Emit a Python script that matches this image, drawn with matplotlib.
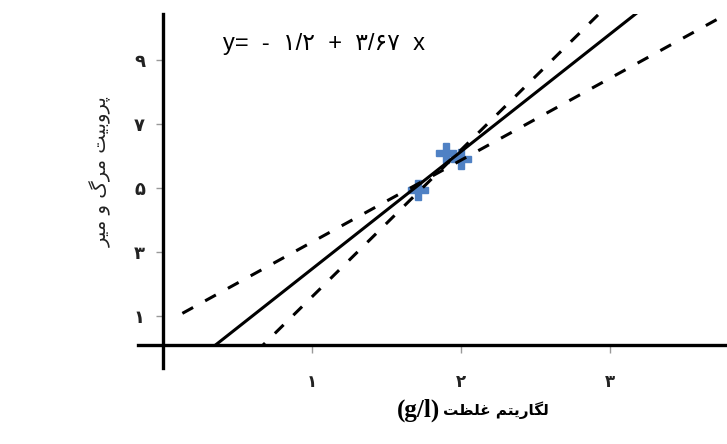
import matplotlib
import matplotlib.pyplot as plt
import numpy as np
from matplotlib.patches import Rectangle

matplotlib.use("Agg")

# =========================
# Datos
# =========================
x_pts = [1.71, 1.90, 2.00]      # log concentración
y_pts = [4.95, 6.10, 5.90]      # probit

fit = (-1.2, 3.67)              # y = b0 + b1 x
upper = (-2.99, 4.59)           # límite de confianza (más inclinado)
lower = (0.75, 2.56)            # límite de confianza (menos inclinado)

xticks = [1, 2, 3]
xtick_labels = ["\u06f1", "\u06f2", "\u06f3"]
yticks = [1, 3, 5, 7, 9]
ytick_labels = ["\u06f1", "\u06f3", "\u06f5", "\u06f7", "\u06f9"]

equation = "y=  -  \u06f1/\u06f2  +  \u06f3/\u06f6\u06f7  x"


# texto persa en formas de presentación, orden visual (sin reshaper)
def visual(*codes):
    return "".join(chr(c) for c in reversed(codes))


# پروبیت مرگ و میر
ylabel = visual(0xFB58, 0xFEAE, 0xFEED, 0xFE91, 0xFBFF, 0xFE96, 0x20,
                0xFEE3, 0xFEAE, 0xFB92, 0x20,
                0xFEED, 0x20,
                0xFEE3, 0xFBFF, 0xFEAE)
# لگاریتم غلظت
xlabel_fa = visual(0xFEDF, 0xFB95, 0xFE8E, 0xFEAD, 0xFBFE, 0xFE98, 0xFEE2, 0x20,
                   0xFECF, 0xFEE0, 0xFEC8, 0xFE96)

# =========================
# Figura
# =========================
fig = plt.figure(figsize=(7.27, 4.44), dpi=100)
ax = fig.add_axes([0, 0, 1, 1])
ax.set_xlim(-1.094, 3.785)
ax.set_ylim(-3.0, 10.875)
ax.patch.set_visible(False)

clip = Rectangle((0, 0.1), 3.8, 10.35, transform=ax.transData)

xx = np.linspace(0.13, 3.8, 200)
for (b0, b1), ls in [(upper, "--"), (lower, "--"), (fit, "-")]:
    ln, = ax.plot(xx, b0 + b1 * xx, color="black", lw=2.2, ls=ls, zorder=3)
    if ls == "--":
        ln.set_dashes((4, 4.5))
    ln.set_clip_path(clip)

ax.plot(x_pts, y_pts, ls="none", marker="P", ms=15, color="#4f81c4",
        mec="#4f81c4", zorder=2)

# ejes cruzando en el origen
for s in ["top", "right"]:
    ax.spines[s].set_visible(False)
ax.spines["left"].set_position(("data", 0))
ax.spines["left"].set_bounds(-0.63, 10.45)
ax.spines["bottom"].set_position(("data", 0.1))
ax.spines["bottom"].set_bounds(-0.17, 3.785)
for s in ["left", "bottom"]:
    ax.spines[s].set_linewidth(2.4)
    ax.spines[s].set_zorder(4)

ax.set_xticks(xticks)
ax.set_xticklabels(xtick_labels, fontsize=12, fontweight="bold", color="#222")
ax.set_yticks(yticks)
ax.set_yticklabels(ytick_labels, fontsize=13, fontweight="bold", color="#222")
ax.tick_params(axis="x", direction="out", length=6, width=1, color="#999", pad=14)
ax.tick_params(axis="y", direction="out", length=5, width=1, color="#999", pad=8)

ax.text(0.40, 9.5, equation, fontsize=17, va="center", ha="left",
        family=["Liberation Sans", "DejaVu Sans"])

ax.text(-0.42, 5.5, ylabel, rotation=90, ha="center", va="center",
        fontsize=14, color="#222")

ax.text(1.86, -1.95, "(g/l)", fontsize=18, fontweight="bold",
        family="Liberation Serif", ha="right", va="center")
ax.text(1.88, -1.95, xlabel_fa, fontsize=11, fontweight="bold",
        ha="left", va="center")

fig.savefig("out.png", dpi=100)
